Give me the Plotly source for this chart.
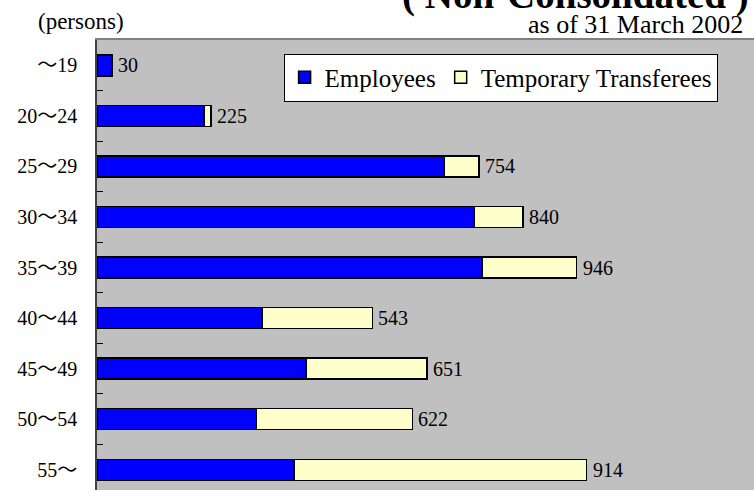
import plotly.graph_objects as go

# ---- data ----
age_groups = ["～19", "20～24", "25～29", "30～34", "35～39", "40～44", "45～49", "50～54", "55～"]
employees = [30, 211, 685, 745, 759, 325, 412, 315, 389]
temporary_transferees = [0, 14, 69, 95, 187, 218, 239, 307, 577]
total_labels = ["30", "225", "754", "840", "946", "543", "651", "622", "914"]

SERIF = "Liberation Serif, Times New Roman, Noto Sans CJK JP, serif"

fig = go.Figure()
fig.add_trace(go.Bar(
    y=age_groups, x=employees, orientation="h", name="Employees",
    marker=dict(color="#0000FF", line=dict(color="#000000", width=1.5)),
    hoverinfo="skip",
))
fig.add_trace(go.Bar(
    y=age_groups, x=temporary_transferees, orientation="h", name="Temporary Transferees",
    marker=dict(color="#FFFFCC", line=dict(color="#000000", width=1.5)),
    hoverinfo="skip",
))

annotations = []
for cat, e, t, lab in zip(age_groups, employees, temporary_transferees, total_labels):
    annotations.append(dict(
        x=e + t, y=cat, xref="x", yref="y", text=lab, showarrow=False,
        xanchor="left", yanchor="middle", xshift=4,
        font=dict(family=SERIF, size=20, color="#000000"),
    ))

annotations += [
    dict(text="(persons)", xref="paper", yref="paper", x=-0.093, y=1.009,
         xanchor="left", yanchor="bottom", showarrow=False,
         font=dict(family=SERIF, size=23, color="#000000")),
    dict(text="as of 31 March 2002", xref="paper", yref="paper", x=0.987, y=0.998,
         xanchor="right", yanchor="bottom", showarrow=False,
         font=dict(family=SERIF, size=26, color="#000000")),
    dict(text="<b>( Non-Consolidated )</b>", xref="paper", yref="paper", x=0.996, y=1.047,
         xanchor="right", yanchor="bottom", showarrow=False,
         font=dict(family=SERIF, size=39, color="#000000")),
]

fig.update_layout(
    width=754, height=490,
    margin=dict(l=97, r=0, t=40, b=0),
    paper_bgcolor="#FFFFFF",
    plot_bgcolor="#C0C0C0",
    barmode="stack",
    bargap=0.585,
    showlegend=True,
    legend=dict(
        orientation="h", x=0.284, y=0.97, xanchor="left", yanchor="top",
        bgcolor="#FFFFFF", bordercolor="#000000", borderwidth=1,
        font=dict(family=SERIF, size=25, color="#000000"),
        traceorder="normal", itemclick=False, itemdoubleclick=False,
    ),
    xaxis=dict(
        range=[0, 1296], side="top", showline=True, linecolor="#808080", linewidth=2,
        showgrid=False, zeroline=False, showticklabels=False, ticks="",
        fixedrange=True,
    ),
    yaxis=dict(
        type="category", categoryorder="array", categoryarray=age_groups,
        range=[8.4, -0.5], showline=True, linecolor="#404040", linewidth=1.5,
        ticks="inside", tickson="boundaries", ticklen=6, tickcolor="#000000", tickwidth=1,
        showgrid=False, zeroline=False, ticklabelstandoff=14,
        tickfont=dict(family=SERIF, size=20, color="#000000"),
        fixedrange=True,
    ),
    annotations=annotations,
)

fig.write_html(
    "out.html",
    config={"displayModeBar": False},
    post_script="document.body.style.margin='0';document.body.style.overflow='hidden';",
)
